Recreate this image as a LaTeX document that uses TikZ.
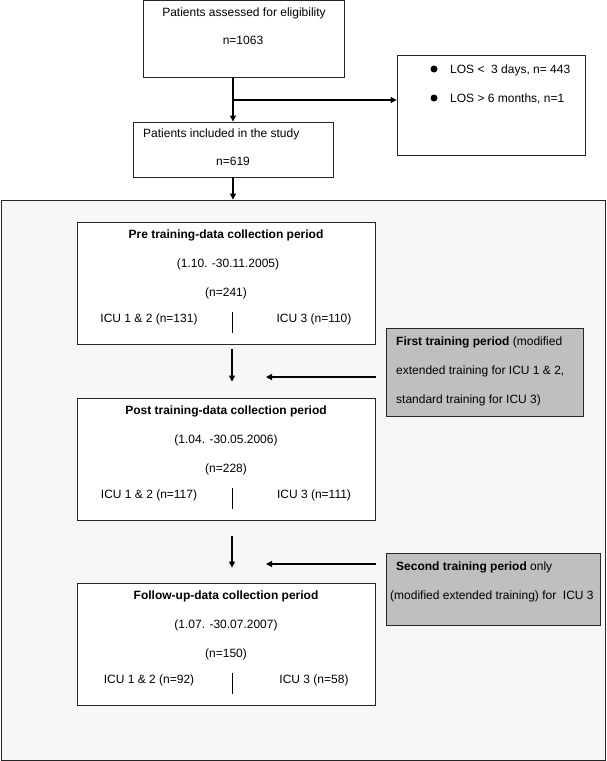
\documentclass[tikz,border=0pt]{standalone}
\usepackage{fontspec}
\setmainfont{Liberation Sans}
\usetikzlibrary{arrows.meta}

\begin{document}
\begin{tikzpicture}[
    x=1pt, y=-1pt,
    font=\fontsize{12}{14}\selectfont,
    box/.style={rectangle, draw=black!85, line width=0.8pt, fill=white, inner sep=0pt},
    greybox/.style={box, fill=gray!50},
    txt/.style={inner sep=0pt, text height=8.6pt, text depth=0pt},
    dot/.style={circle, fill=black, inner sep=0pt, minimum size=7pt},
    arrow/.style={-{Triangle[length=6pt,width=6pt]}, line width=1.2pt}
]
\useasboundingbox (0,0) rectangle (607,761);

% frame round the three periods
\node[box, fill=gray!6, minimum width=604pt, minimum height=560pt] (frame) at (303,480) {};

\node[box, minimum width=201pt, minimum height=77pt] (assess) at (243.5,39) {};
\node[box, minimum width=200pt, minimum height=55pt] (incl) at (233,149.5) {};
\node[box, minimum width=188pt, minimum height=100pt] (excl) at (491,105) {};

\node[box, minimum width=298pt, minimum height=122pt] (pre) at (226,283) {};
\node[box, minimum width=298pt, minimum height=122pt] (post) at (226,459) {};
\node[box, minimum width=298pt, minimum height=122pt] (follow) at (226,644) {};

\node[greybox, minimum width=197pt, minimum height=88pt] (first) at (484.5,372) {};
\node[greybox, minimum width=214pt, minimum height=72pt] (second) at (493,589) {};

% texts
\node[txt] (assesst) at (244,12) {Patients assessed for eligibility};
\node[txt] (assessn) at (243,40) {n=1063};
\node[txt, anchor=west] (inclt) at (143,133) {Patients included in the study};
\node[txt] (incln) at (233,161) {n=619};

\node[dot] (b1) at (434,69) {};
\node[dot] (b2) at (434,98) {};
\node[txt, anchor=west] (excl1) at (450,69) {LOS <\ \ 3 days, n= 443};
\node[txt, anchor=west] (excl2) at (450,98) {LOS > 6 months, n=1};

\node[txt] (pret) at (226,234) {\textbf{Pre training-data collection period}};
\node[txt] (pred) at (228,263) {(1.10. -30.11.2005)};
\node[txt] (pren) at (226,292) {(n=241)};
\node[txt] (prea) at (149,318) {ICU 1 \& 2 (n=131)};
\node[txt] (preb) at (314,318) {ICU 3 (n=110)};
\draw[line width=0.8pt] (232,312) -- (232,333);

\node[txt] (postt) at (226,410) {\textbf{Post training-data collection period}};
\node[txt] (postd) at (226,439) {(1.04. -30.05.2006)};
\node[txt] (postn) at (226,468) {(n=228)};
\node[txt] (posta) at (149,494) {ICU 1 \& 2 (n=117)};
\node[txt] (postb) at (314,494) {ICU 3 (n=111)};
\draw[line width=0.8pt] (232,488) -- (232,509);

\node[txt] (followt) at (226,595) {\textbf{Follow-up-data collection period}};
\node[txt] (followd) at (226,624) {(1.07. -30.07.2007)};
\node[txt] (follown) at (226,653) {(n=150)};
\node[txt] (followa) at (149,679) {ICU 1 \& 2 (n=92)};
\node[txt] (followb) at (314,679) {ICU 3 (n=58)};
\draw[line width=0.8pt] (232,673) -- (232,694);

\node[txt, anchor=west] (first1) at (396,341) {\textbf{First training period} (modified};
\node[txt, anchor=west] (first2) at (396,370) {extended training for ICU 1 \& 2,};
\node[txt, anchor=west] (first3) at (396,399) {standard training for ICU 3)};
\node[txt, anchor=west] (second1) at (396,566) {\textbf{Second training period} only};
\node[txt, anchor=west] (second2) at (390,595) {(modified extended training) for\ \ ICU 3};

% connectors
\coordinate (split) at (233,100);
\coordinate (hit1) at (266,377);
\coordinate (hit2) at (266,564);
\draw[arrow] (assess.south -| incl.north) -- (incl.north);
\draw[arrow] (split) -- (split -| excl.west);
\draw[arrow] (incl.south) -- (incl.south |- frame.north);
\draw[arrow, shorten <=5pt, shorten >=16pt] ([xshift=6pt]pre.south) -- ([xshift=6pt]post.north);
\draw[arrow, shorten <=16pt, shorten >=15pt] ([xshift=6pt]post.south) -- ([xshift=6pt]follow.north);
\draw[arrow, shorten <=10pt] (first.west |- hit1) -- (hit1);
\draw[arrow, shorten <=10pt] (second.west |- hit2) -- (hit2);
\end{tikzpicture}
\end{document}
